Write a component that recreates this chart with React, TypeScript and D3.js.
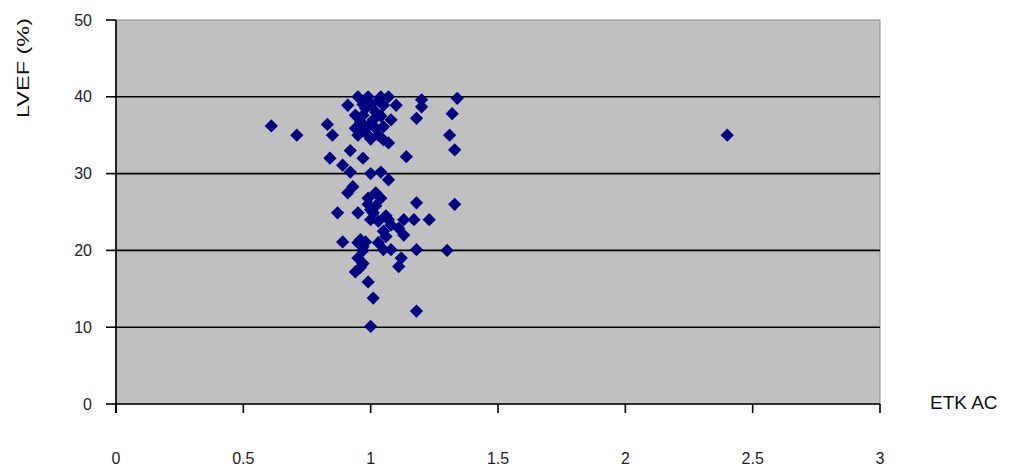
import { useEffect, useRef } from 'react';
import * as d3 from 'd3';

// ETK AC values and matching LVEF (%)
const etkAc = [
  0.61, 0.71, 0.83, 0.85, 0.84, 0.89, 0.92, 0.92, 0.97, 0.93, 0.91, 0.87, 0.95, 0.89, 0.96,
  0.91, 0.95, 0.99, 1.04, 1.07, 1.10, 1.05, 0.94, 0.97, 1.02, 0.94, 0.98, 1.02, 1.05, 1.08,
  0.95, 0.99, 1.05, 1.07, 0.98, 1.00, 0.96, 1.01, 1.03,
  0.97, 1.03, 1.00, 1.04, 0.96, 1.00,
  1.20, 1.20, 1.18, 1.34, 1.32, 1.31, 1.33, 1.14, 2.40,
  1.00, 1.04, 1.07, 0.99, 1.04, 1.01, 1.00, 1.00, 0.99, 1.02, 1.07, 1.13, 1.17, 1.11, 1.13,
  1.06, 1.05, 1.08, 1.18, 1.30, 1.18, 1.33, 1.23, 1.08, 1.05, 1.03,
  1.03, 1.06, 1.02, 0.97,
  0.98, 0.95, 0.97, 0.95, 0.97, 0.94, 0.96, 1.12, 1.11, 0.99, 1.01, 1.18, 1.00
];
const lvef = [
  36.2, 35.0, 36.4, 35.0, 32.0, 31.1, 30.2, 33.0, 32.0, 28.3, 27.5, 24.9, 24.9, 21.1, 21.4,
  38.9, 40.0, 40.0, 40.0, 40.0, 38.9, 38.9, 37.6, 37.6, 38.0, 35.9, 35.9, 35.9, 36.1, 37.0,
  35.0, 35.0, 34.4, 34.0, 38.5, 39.0, 36.8, 37.0, 35.0,
  39.0, 39.5, 36.5, 37.5, 35.5, 34.5,
  39.6, 38.7, 37.2, 39.8, 37.8, 35.0, 33.1, 32.2, 35.0,
  30.0, 30.2, 29.2, 26.8, 26.8, 24.9, 25.3, 24.0, 26.0, 25.8, 24.0, 24.0, 24.0, 22.9, 22.0,
  21.8, 20.1, 20.1, 20.1, 20.0, 26.2, 26.0, 24.0, 23.3, 22.5, 23.8,
  21.0, 24.5, 27.5, 20.5,
  21.1, 21.0, 20.0, 19.0, 18.3, 17.2, 17.8, 19.0, 17.9, 15.9, 13.8, 12.1, 10.1
];
const xTicks = [0, 0.5, 1, 1.5, 2, 2.5, 3];
const yTicks = [0, 10, 20, 30, 40, 50];
const gridValues = [10, 20, 30, 40];

const W = 1018, H = 470;
const plot = { left: 116, right: 880, top: 20, bottom: 404 };
const font = '"Liberation Sans", Arial, sans-serif';

const drawChart = (node: SVGSVGElement) => {
  const svg = d3.select(node);
  svg.selectAll('*').remove();

  const x = d3.scaleLinear().domain([0, 3]).range([plot.left, plot.right]);
  const y = d3.scaleLinear().domain([0, 50]).range([plot.bottom, plot.top]);

  // plot background + light frame
  svg.append('rect')
    .attr('x', plot.left).attr('y', plot.top)
    .attr('width', plot.right - plot.left).attr('height', plot.bottom - plot.top)
    .attr('fill', '#c0c0c0')
    .attr('stroke', '#8a8a8a')
    .attr('stroke-width', 1);

  // horizontal grid lines
  svg.append('g').selectAll('line')
    .data(gridValues)
    .enter().append('line')
    .attr('x1', plot.left).attr('x2', plot.right)
    .attr('y1', d => y(d)).attr('y2', d => y(d))
    .attr('stroke', '#000').attr('stroke-width', 1.6);

  // y axis
  const yAxis = svg.append('g').attr('transform', `translate(${plot.left},0)`);
  yAxis.append('line')
    .attr('x1', 0).attr('x2', 0)
    .attr('y1', plot.top).attr('y2', plot.bottom + 9)
    .attr('stroke', '#000').attr('stroke-width', 1.6);
  yAxis.selectAll('.yt').data(yTicks).enter().append('line')
    .attr('x1', -10).attr('x2', 0)
    .attr('y1', d => y(d)).attr('y2', d => y(d))
    .attr('stroke', '#000').attr('stroke-width', 1.6);
  yAxis.selectAll('text').data(yTicks).enter().append('text')
    .attr('x', -24).attr('y', d => y(d))
    .attr('dy', '0.35em')
    .attr('text-anchor', 'end')
    .style('font-family', font).style('font-size', '16px').attr('fill', '#222')
    .text(d => d);

  // x axis
  const xAxis = svg.append('g').attr('transform', `translate(0,${plot.bottom})`);
  xAxis.append('line')
    .attr('x1', plot.left).attr('x2', plot.right)
    .attr('y1', 0).attr('y2', 0)
    .attr('stroke', '#000').attr('stroke-width', 1.6);
  xAxis.selectAll('.xt').data(xTicks).enter().append('line')
    .attr('x1', d => x(d)).attr('x2', d => x(d))
    .attr('y1', 0).attr('y2', 9)
    .attr('stroke', '#000').attr('stroke-width', 1.6);
  xAxis.selectAll('text').data(xTicks).enter().append('text')
    .attr('x', d => x(d)).attr('y', 54)
    .attr('dy', '0.35em')
    .attr('text-anchor', 'middle')
    .style('font-family', font).style('font-size', '16px').attr('fill', '#222')
    .text(d => d);

  // points: diamonds
  const diamond = d3.symbol().type(d3.symbolSquare).size(88);
  svg.append('g').selectAll('path')
    .data(etkAc.map((v, i) => [v, lvef[i]]))
    .enter().append('path')
    .attr('d', diamond)
    .attr('transform', d => `translate(${x(d[0])},${y(d[1])}) rotate(45)`)
    .attr('fill', '#000080');

  // axis titles
  svg.append('text')
    .attr('x', 930).attr('y', 409)
    .style('font-family', font).style('font-size', '19px').attr('fill', '#111')
    .text('ETK AC');

  svg.append('text')
    .attr('transform', 'translate(29,68) rotate(-90)')
    .attr('text-anchor', 'middle')
    .attr('textLength', 100).attr('lengthAdjust', 'spacingAndGlyphs')
    .style('font-family', font).style('font-size', '17px').attr('fill', '#111')
    .text('LVEF (%)');
};

const App = () => {
  const ref = useRef<SVGSVGElement>(null);
  useEffect(() => {
    if (ref.current) drawChart(ref.current);
  }, []);
  return (
    <svg ref={ref} width={W} height={H}
      style={{ position: 'absolute', left: 0, top: 0, background: '#fff' }} />
  );
};

export default App;
